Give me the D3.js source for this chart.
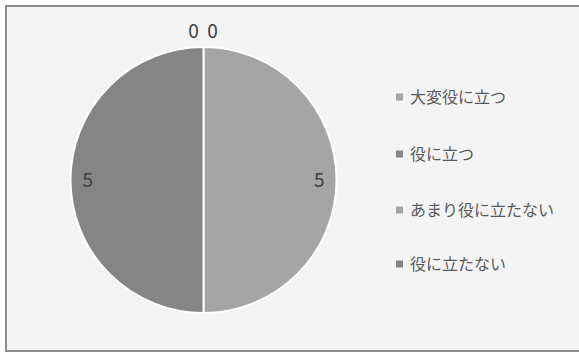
<!DOCTYPE html>
<html><head><meta charset="utf-8">
<script src="https://cdn.jsdelivr.net/npm/d3@7"></script>
<style>
html,body{margin:0;padding:0;background:#fff;}
svg{display:block;}
text{font-family:"Noto Sans CJK JP","Noto Sans",sans-serif;}
</style></head>
<body>
<svg id="chart" width="579" height="356"></svg>
<script>
const categories = ["大変役に立つ","役に立つ","あまり役に立たない","役に立たない"];
const values = [0,0,5,5];
const colors = ["#a5a5a5","#858585","#a5a5a5","#858585"];

const svg = d3.select("#chart");
svg.append("rect").attr("x",6).attr("y",6).attr("width",580).attr("height",345)
  .attr("fill","#f4f4f4").attr("stroke","#8c8c8c").attr("stroke-width",2);

const cx = 203.5, cy = 180, r = 133;
const data = categories.map((c,i)=>({cat:c,value:values[i],color:colors[i]}));
const pie = d3.pie().value(d=>d.value).sort(null);
const arcs = pie(data);
const arc = d3.arc().innerRadius(0).outerRadius(r);
const g = svg.append("g").attr("transform",`translate(${cx},${cy})`);
g.selectAll("path").data(arcs.filter(a=>a.data.value>0)).join("path")
  .attr("d",arc).attr("fill",d=>d.data.color)
  .attr("stroke","#ffffff").attr("stroke-width",2);

// labels
const labelArc = d3.arc().innerRadius(r*0.87).outerRadius(r*0.87);
const zeroArc = d3.arc().innerRadius(r+16).outerRadius(r+16);
let zi = 0;
arcs.forEach(a=>{
  let x,y;
  if(a.data.value===0){
    const p = zeroArc.centroid(a);
    x = p[0] + (zi===0 ? -10 : 9); y = p[1];
    zi++;
  } else {
    [x,y] = labelArc.centroid(a);
  }
  g.append("text").attr("x",x).attr("y",y).attr("dy","0.35em")
    .attr("text-anchor","middle").attr("font-size",19).attr("fill","#404040")
    .text(a.data.value);
});

// legend
const ly = [97,154,210,264];
const lg = svg.append("g");
data.forEach((d,i)=>{
  lg.append("rect").attr("x",396).attr("y",ly[i]-3.5).attr("width",7).attr("height",7).attr("fill",d.color);
  lg.append("text").attr("x",410).attr("y",ly[i]).attr("dy","0.35em")
    .attr("font-size",16).attr("fill","#595959").text(d.cat);
});
</script>
</body></html>
